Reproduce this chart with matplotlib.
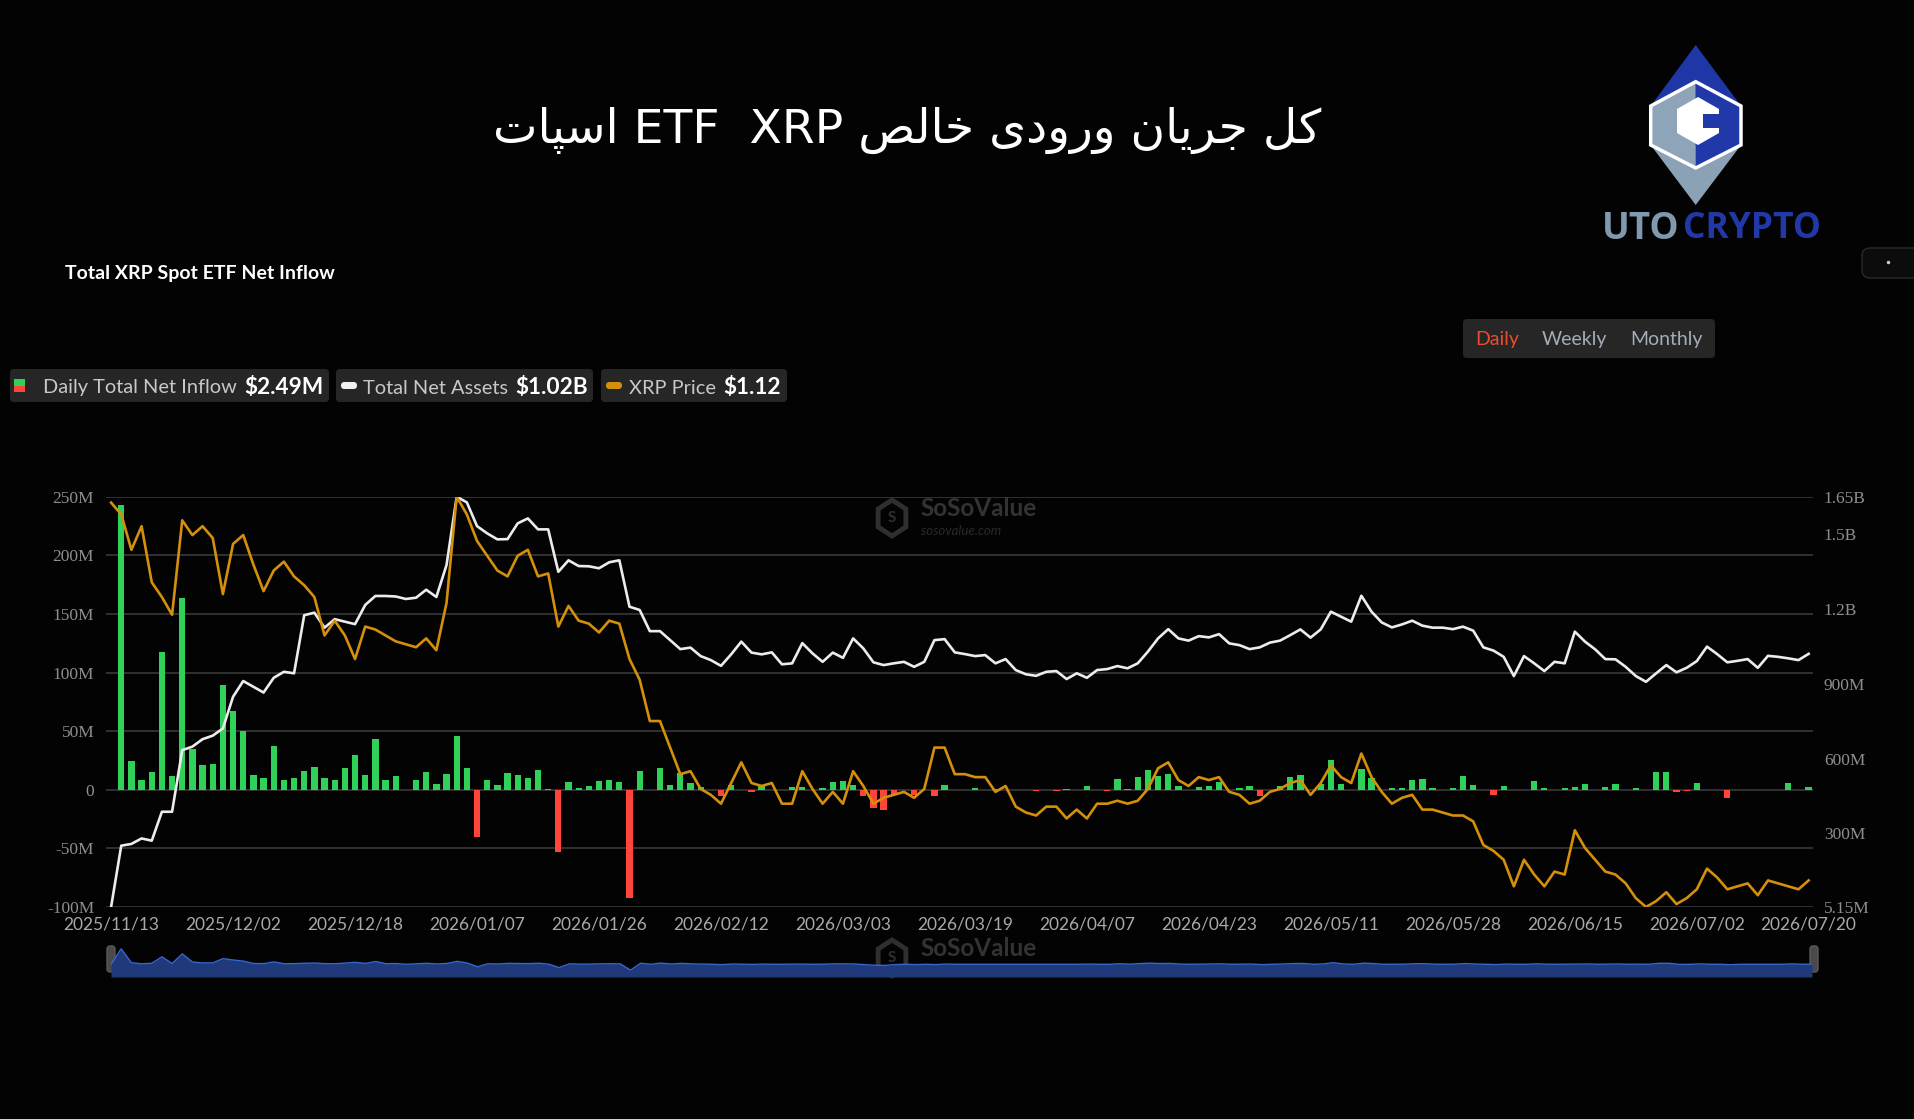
import numpy as np
import pandas as pd
import matplotlib
matplotlib.use("Agg")
import matplotlib.pyplot as plt
from matplotlib.patches import FancyBboxPatch, Polygon

W, H = 1915, 1119

# trading calendar (NYSE holidays) and one day without data
holidays = ["2025-11-27", "2025-12-25", "2026-01-01", "2026-01-19", "2026-02-16",
            "2026-04-03", "2026-05-25", "2026-06-19", "2026-07-03"]
no_data_day = "2026-01-30"

# daily total net inflow, $M
daily_inflow = [
    0, 242.5, 24.7, 8.0, 15.1, 117.4, 11.4, 163.5, 35.0, 21.3, 22.2, 89.0,
    67.1, 49.8, 12.2, 10.0, 37.5, 8.2, 10.0, 15.9, 19.3, 10.2, 8.0, 18.5,
    29.9, 12.8, 43.5, 8.0, 11.4, 0, 8.0, 15.1, 5.1, 13.1, 45.8, 18.5,
    -40.4, 8.2, 4.3, 14.5, 12.5, 10.0, 16.5, 0.6, -52.8, 6.5, 1.7, 3.0,
    7.1, 8.5, 6.4, -92.2, 16.2, -0.5, 18.8, 4.3, 14.2, 5.7, 2.5, 0,
    -5.7, 3.7, 0, -2.0, 2.8, 0, 0, 2.3, 2.3, 0, 1.7, 6.5,
    7.1, 3.7, -5.7, -15.6, -17.6, -4.8, 0, -4.8, 0, -5.4, 4.0, 0,
    0, 1.7, 0, 0.9, 0, 0, 0, -1.4, 0, -0.9, 0.3, 0,
    2.8, 0, -0.9, 8.8, 0.9, 10.8, 17.1, 11.4, 13.6, 2.8, 0, 2.0,
    3.1, 6.5, 0, 1.7, 3.1, -5.7, 0, 3.1, 10.8, 12.8, 0, 5.1,
    25.0, 4.8, 0, 17.9, 10.2, 0, 1.4, 1.4, 8.5, 9.4, 1.4, 0,
    1.4, 11.4, 3.7, 0, -4.8, 3.1, 0, 0, 7.1, 1.4, 0, 1.4,
    2.3, 4.8, 0, 2.3, 4.8, 0, 1.7, 0, 15.1, 15.1, -2.0, -1.4,
    6.0, 0, 0, -6.8, 0, 0, 0, 0, 0, 6.0, 0, 2.49,
]

# total net assets, $M
net_assets = [
    5.15, 251, 258, 280, 271, 387, 387, 634, 648, 678, 692, 721,
    848, 911, 888, 865, 924, 948, 942, 1175, 1185, 1125, 1159, 1149,
    1139, 1216, 1252, 1252, 1250, 1240, 1245, 1277, 1248, 1376, 1650, 1627,
    1532, 1503, 1479, 1480, 1543, 1563, 1519, 1519, 1349, 1395, 1372, 1371,
    1363, 1387, 1395, 1209, 1196, 1111, 1111, 1075, 1039, 1045, 1011, 995,
    972, 1018, 1069, 1025, 1018, 1026, 978, 982, 1063, 1022, 988, 1025,
    1004, 1082, 1042, 986, 975, 982, 988, 968, 988, 1075, 1079, 1026,
    1019, 1011, 1015, 982, 999, 955, 938, 932, 948, 951, 919, 942,
    924, 955, 959, 971, 962, 982, 1029, 1082, 1119, 1082, 1073, 1091,
    1086, 1099, 1062, 1055, 1039, 1046, 1065, 1073, 1095, 1118, 1085, 1118,
    1189, 1169, 1149, 1253, 1189, 1146, 1126, 1138, 1153, 1133, 1125, 1125,
    1119, 1129, 1113, 1046, 1033, 1008, 931, 1011, 982, 951, 988, 982,
    1109, 1069, 1038, 999, 998, 968, 931, 908, 942, 975, 946, 964,
    991, 1049, 1019, 986, 992, 999, 964, 1012, 1008, 1002, 995, 1020,
]

# XRP price, $
xrp_price = [
    2.40, 2.36, 2.24, 2.32, 2.13, 2.08, 2.02, 2.34, 2.29, 2.32, 2.28, 2.09,
    2.26, 2.29, 2.19, 2.10, 2.17, 2.20, 2.15, 2.12, 2.08, 1.95, 2.00, 1.95,
    1.87, 1.98, 1.97, 1.95, 1.93, 1.92, 1.91, 1.94, 1.90, 2.06, 2.42, 2.36,
    2.27, 2.22, 2.17, 2.15, 2.22, 2.24, 2.15, 2.16, 1.98, 2.05, 2.00, 1.99,
    1.96, 2.00, 1.99, 1.87, 1.80, 1.66, 1.66, 1.57, 1.48, 1.49, 1.43, 1.41,
    1.38, 1.45, 1.52, 1.45, 1.44, 1.45, 1.38, 1.38, 1.49, 1.43, 1.38, 1.42,
    1.38, 1.49, 1.44, 1.38, 1.40, 1.41, 1.42, 1.40, 1.43, 1.57, 1.57, 1.48,
    1.48, 1.47, 1.47, 1.42, 1.44, 1.37, 1.35, 1.34, 1.37, 1.37, 1.33, 1.36,
    1.33, 1.38, 1.38, 1.39, 1.38, 1.39, 1.43, 1.50, 1.52, 1.46, 1.44, 1.47,
    1.46, 1.47, 1.42, 1.41, 1.38, 1.39, 1.42, 1.43, 1.45, 1.46, 1.41, 1.45,
    1.51, 1.47, 1.45, 1.55, 1.47, 1.42, 1.38, 1.40, 1.41, 1.36, 1.36, 1.35,
    1.34, 1.34, 1.32, 1.24, 1.22, 1.19, 1.10, 1.19, 1.14, 1.10, 1.15, 1.14,
    1.29, 1.23, 1.19, 1.15, 1.14, 1.11, 1.06, 1.03, 1.05, 1.08, 1.04, 1.06,
    1.09, 1.16, 1.13, 1.09, 1.10, 1.11, 1.07, 1.12, 1.11, 1.10, 1.09, 1.12,
]

left_ticks = [-100, -50, 0, 50, 100, 150, 200, 250]
left_labels = ["-100M", "-50M", "0", "50M", "100M", "150M", "200M", "250M"]
right_ticks = [5.15, 300, 600, 900, 1200, 1500, 1650]
right_labels = ["5.15M", "300M", "600M", "900M", "1.2B", "1.5B", "1.65B"]

title_words = ["کل", "جریان", "ورودی", "خالص"]
title_tail = "اسپات"

GREEN = "#30d158"
RED = "#ff453a"
WHITE_LINE = "#ececec"
ORANGE = "#d4900a"
BG = "#030303"

# Persian presentation forms: isolated, final, initial, medial
FORMS = {
    "ا": ("\uFE8D", "\uFE8E", None, None),
    "پ": ("\uFB56", "\uFB57", "\uFB58", "\uFB59"),
    "ت": ("\uFE95", "\uFE96", "\uFE97", "\uFE98"),
    "ج": ("\uFE9D", "\uFE9E", "\uFE9F", "\uFEA0"),
    "خ": ("\uFEA5", "\uFEA6", "\uFEA7", "\uFEA8"),
    "د": ("\uFEA9", "\uFEAA", None, None),
    "ر": ("\uFEAD", "\uFEAE", None, None),
    "س": ("\uFEB1", "\uFEB2", "\uFEB3", "\uFEB4"),
    "ص": ("\uFEB9", "\uFEBA", "\uFEBB", "\uFEBC"),
    "ک": ("\uFB8E", "\uFB8F", "\uFB90", "\uFB91"),
    "ل": ("\uFEDD", "\uFEDE", "\uFEDF", "\uFEE0"),
    "ن": ("\uFEE5", "\uFEE6", "\uFEE7", "\uFEE8"),
    "و": ("\uFEED", "\uFEEE", None, None),
    "ی": ("\uFBFC", "\uFBFD", "\uFBFE", "\uFBFF"),
}


def shape_word(word):
    # join letters and return them in visual (left to right) order
    out = []
    for i, ch in enumerate(word):
        iso, fin, ini, med = FORMS[ch]
        prev_joins = i > 0 and FORMS[word[i - 1]][2] is not None
        next_joins = i < len(word) - 1 and ini is not None
        if prev_joins and next_joins:
            out.append(med)
        elif prev_joins:
            out.append(fin)
        elif next_joins:
            out.append(ini)
        else:
            out.append(iso)
    return "".join(reversed(out))


dates = pd.bdate_range("2025-11-13", "2026-07-20", freq="C", holidays=holidays)
dates = dates[dates != pd.Timestamp(no_data_day)]
x = np.arange(len(dates))

fig = plt.figure(figsize=(W / 100, H / 100), dpi=100, facecolor=BG)

# overlay in pixel coordinates for the page furniture
ov = fig.add_axes([0, 0, 1, 1])
ov.set_xlim(0, W)
ov.set_ylim(H, 0)
ov.axis("off")

# title
title = (shape_word(title_tail) + " ETF  XRP "
         + " ".join(shape_word(w) for w in reversed(title_words)))
ov.text(907, 130, title, ha="center", va="center", fontsize=34,
        color="white", family=["DejaVu Sans"])

# logo
ov.add_patch(Polygon([(1695.7, 45), (1741, 106), (1650.7, 106)], closed=True,
                     fc="#1f36a6", ec="none"))
ov.add_patch(Polygon([(1650.7, 145), (1741, 145), (1695.7, 205)], closed=True,
                     fc="#8ba1b5", ec="none"))
ov.add_patch(Polygon([(1695.7, 81.7), (1695.7, 168), (1650.7, 145), (1650.7, 106)],
                     closed=True, fc="#8ea4b8", ec="none"))
ov.add_patch(Polygon([(1695.7, 81.7), (1741, 106), (1741, 145), (1695.7, 168)],
                     closed=True, fc="#2139a8", ec="none"))
ov.add_patch(Polygon([(1695.7, 81.7), (1741, 106), (1741, 145), (1695.7, 168),
                      (1650.7, 145), (1650.7, 106)], closed=True, fc="none",
                     ec="white", lw=2.5))
ov.add_patch(Polygon([(1698, 97), (1719, 109), (1719, 133), (1698, 145),
                      (1677, 133), (1677, 109)], closed=True, fc="white", ec="none"))
ov.add_patch(Polygon([(1703, 114), (1720, 114), (1720, 128), (1703, 128)],
                     closed=True, fc="#2139a8", ec="none"))
ov.text(1602, 229, "UTO", ha="left", va="center", fontsize=26.5, fontweight="bold",
        color="#7f99af", family="Open Sans")
ov.text(1683, 229, "CRYPTO", ha="left", va="center", fontsize=25.5, fontweight="bold",
        color="#2139a8", family="Open Sans")

# small control at the right edge
ov.add_patch(FancyBboxPatch((1862, 248), 70, 30, boxstyle="round,pad=0,rounding_size=8",
                            fc="#0c0c0c", ec="#2a2a2a", lw=1))
ov.plot([1888], [262], marker="o", ms=1.5, color="#cccccc")

# chart subtitle
ov.text(65, 273, "Total XRP Spot ETF Net Inflow", ha="left", va="center", fontsize=14,
        fontweight="bold", color="white", family="Lato")

# period switch
ov.add_patch(FancyBboxPatch((1463, 319), 252, 39, boxstyle="round,pad=0,rounding_size=4",
                            fc="#262626", ec="none"))
ov.text(1475, 339, "Daily", ha="left", va="center", fontsize=14, color="#ee4b2b", family="Lato")
ov.text(1542, 339, "Weekly", ha="left", va="center", fontsize=14, color="#a3adb6", family="Lato")
ov.text(1630, 339, "Monthly", ha="left", va="center", fontsize=14, color="#a3adb6", family="Lato")

# legend chips
chips = [
    (10, 319, 43, "Daily Total Net Inflow", 244, "$2.49M"),
    (336, 257, 363, "Total Net Assets", 515, "$1.02B"),
    (601, 186, 629, "XRP Price", 723, "$1.12"),
]
for bx, bw, tx, label, vx, val in chips:
    ov.add_patch(FancyBboxPatch((bx, 369), bw, 33, boxstyle="round,pad=0,rounding_size=4",
                                fc="#262626", ec="none"))
    ov.text(tx, 388, label, ha="left", va="center", fontsize=14.4, color="#c8c8c8", family="Lato")
    ov.text(vx, 387, val, ha="left", va="center", fontsize=16.3, fontweight="bold",
            color="white", family="Lato")
ov.add_patch(Polygon([(14, 379), (25, 379), (25, 385.5), (14, 385.5)], fc=GREEN, ec="none"))
ov.add_patch(Polygon([(14, 385.5), (25, 385.5), (25, 392), (14, 392)], fc=RED, ec="none"))
ov.add_patch(FancyBboxPatch((341, 382), 16, 7, boxstyle="round,pad=0,rounding_size=3.5",
                            fc="#f0f0f0", ec="none"))
ov.add_patch(FancyBboxPatch((606, 382), 16, 7, boxstyle="round,pad=0,rounding_size=3.5",
                            fc=ORANGE, ec="none"))

# watermarks
for wy in (516, 956):
    hx, hy = 892, wy + 2
    hexv = [(hx + 16 * np.cos(np.radians(a)), hy - 18 * np.sin(np.radians(a)))
            for a in (90, 30, -30, -90, -150, 150)]
    ov.add_patch(Polygon(hexv, closed=True, fc="none", ec="#2f2f2f", lw=3.5, zorder=1))
    ov.text(hx, hy, "S", ha="center", va="center", fontsize=11, fontweight="bold",
            color="#2f2f2f", family="Lato")
    ov.text(920, wy - 7, "SoSoValue", ha="left", va="center", fontsize=17.5, fontweight="bold",
            color="#333333", family="Lato")
    ov.text(921, wy + 15, "sosovalue.com", ha="left", va="center", fontsize=9.5,
            style="italic", color="#2a2a2a", family="Lato")

# main chart
ax = fig.add_axes([106 / W, (H - 907) / H, (1812.7 - 106) / W, (907 - 496.7) / H])
ax.set_facecolor("none")
for s in ax.spines.values():
    s.set_visible(False)

colors = [GREEN if v >= 0 else RED for v in daily_inflow]
ax.bar(x, daily_inflow, width=0.62, color=colors, zorder=2)
ax.set_xlim(-0.5, 167.4)
ax.set_ylim(-100, 250)
ax.set_yticks(left_ticks)
ax.set_yticklabels(left_labels, family="Liberation Serif", fontsize=12.5, color="#8e8e8e")
ax.tick_params(axis="y", length=0, pad=8.5)
ax.grid(axis="y", color="#383838", lw=1.2)
ax.set_axisbelow(True)

xt = list(range(0, len(x), 12)) + [len(x) - 1]
ax.set_xticks(xt)
ax.set_xticklabels([dates[i].strftime("%Y/%m/%d") for i in xt], family="Lato",
                   fontsize=12.5, color="#a9a9a9")
ax.tick_params(axis="x", length=0, pad=6.5)

ax2 = ax.twinx()
for s in ax2.spines.values():
    s.set_visible(False)
ax2.plot(x, net_assets, color=WHITE_LINE, lw=1.9, solid_joinstyle="round")
ax2.set_ylim(min(net_assets), max(net_assets))
ax2.set_yticks(right_ticks)
ax2.set_yticklabels(right_labels, family="Liberation Serif", fontsize=12.5, color="#8e8e8e")
ax2.tick_params(axis="y", length=0, pad=8)

ax3 = ax.twinx()
ax3.axis("off")
ax3.plot(x, xrp_price, color=ORANGE, lw=1.9, solid_joinstyle="round")
ax3.set_ylim(min(xrp_price), max(xrp_price))
ax3.set_xlim(-0.5, 167.4)

# navigator strip under the chart
nav = fig.add_axes([111 / W, (H - 977) / H, (1812 - 111) / W, 35 / H])
nav.set_facecolor("#1b2948")
nav.fill_between(x, daily_inflow, -200, color="#20397a", lw=0)
nav.plot(x, daily_inflow, color="#3467d0", lw=1)
nav.set_xlim(0, len(x) - 1)
nav.set_ylim(-200, 350)
nav.axis("off")
nav.patch.set_visible(True)
for hx in (111, 1814):
    ov.add_patch(FancyBboxPatch((hx - 4, 946), 8, 26, boxstyle="round,pad=0,rounding_size=3",
                                fc="#4a4a4a", ec="#5a5a5a", lw=1, zorder=5))

fig.savefig("out.png", dpi=100, facecolor=BG)
